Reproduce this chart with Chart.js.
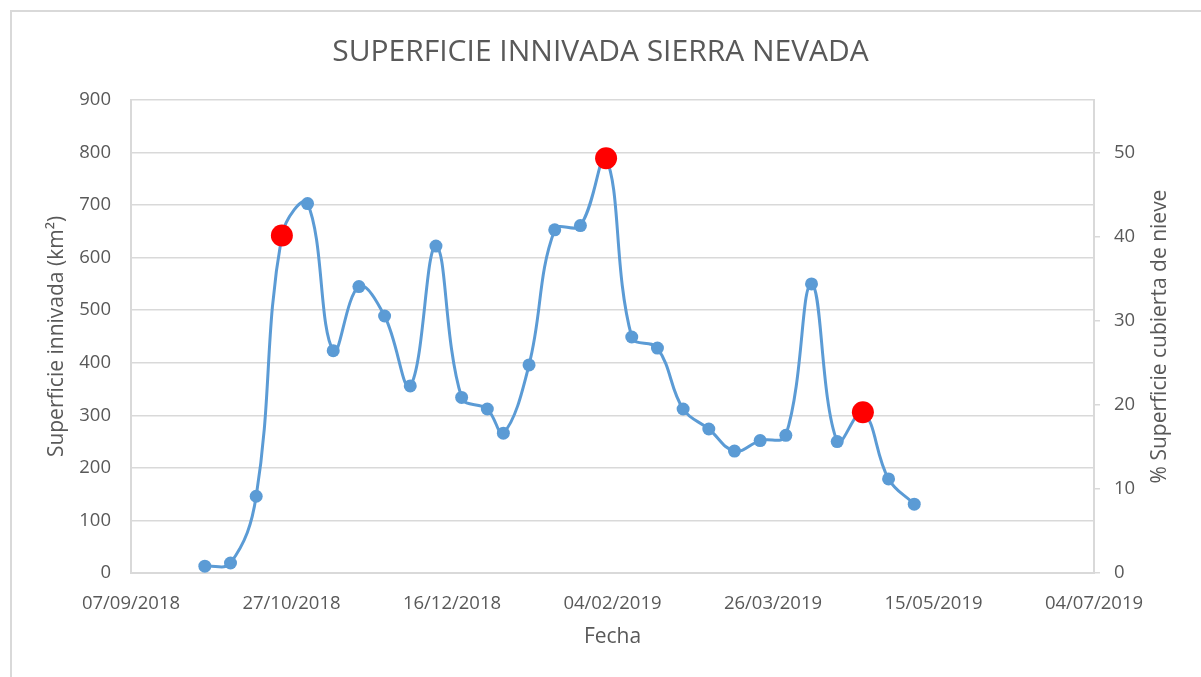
<!DOCTYPE html>
<html>
<head>
<meta charset="utf-8">
<script src="https://cdn.jsdelivr.net/npm/chart.js@4/dist/chart.umd.min.js"></script>
<style>
  html, body { margin: 0; padding: 0; background: #ffffff; }
  #wrap { position: relative; width: 1201px; height: 677px; }
  #frame { position: absolute; left: 10px; top: 10px; width: 1200px; height: 700px;
           border-left: 2px solid #d9d9d9; border-top: 2px solid #d9d9d9; pointer-events: none; }
  canvas { position: absolute; left: 0; top: 0; }
</style>
</head>
<body>
<div id="wrap">
  <canvas id="c" width="1201" height="677"></canvas>
  <div id="frame"></div>
</div>
<script>
// ---- Data ----
const chartTitle = 'SUPERFICIE INNIVADA SIERRA NEVADA';
const dates = ['2018-09-30','2018-10-08','2018-10-16','2018-10-24','2018-11-01','2018-11-09','2018-11-17','2018-11-25','2018-12-03','2018-12-11','2018-12-19','2018-12-27','2019-01-01','2019-01-09','2019-01-17','2019-01-25','2019-02-02','2019-02-10','2019-02-18','2019-02-26','2019-03-06','2019-03-14','2019-03-22','2019-03-30','2019-04-07','2019-04-15','2019-04-23','2019-05-01','2019-05-09'];
const snowArea = [13,19,146,642,703,423,545,489,356,622,334,312,266,396,653,661,789,449,428,312,274,232,252,262,550,250,306,179,131];
const highlightDates = ['2018-10-24','2019-02-02','2019-04-23'];
const axisStartDate = '2018-09-07';
const axisSpanDays = 300;
const axisStepDays = 50;
const leftTicks = [0, 900, 100];      // min, max, step (km2)
const rightTicks = [0, 50, 10];        // shown percentage ticks
const totalAreaKm2 = 1600;             // 800 km2 == 50 %
const xTitle = 'Fecha';
const yTitle = 'Superficie innivada (km²)';
const y1Title = '% Superficie cubierta de nieve';

// ---- helpers ----
const DAY = 86400000;
function toUTC(s) { const [y, m, d] = s.split('-').map(Number); return Date.UTC(y, m - 1, d); }
const base = toUTC(axisStartDate);
function dayOffset(s) { return Math.round((toUTC(s) - base) / DAY); }
function fmt(offset) {
  const d = new Date(base + offset * DAY);
  const dd = String(d.getUTCDate()).padStart(2, '0');
  const mm = String(d.getUTCMonth() + 1).padStart(2, '0');
  return dd + '/' + mm + '/' + d.getUTCFullYear();
}

const points = dates.map((s, i) => ({ x: dayOffset(s), y: snowArea[i] }));
const isHi = dates.map(s => highlightDates.includes(s));

const gray = '#595959';
const gridCol = '#d9d9d9';
const fontFamily = '"Open Sans", sans-serif';
const tickFont = { family: fontFamily, size: 18.5 };
const axisTitleFont = { family: fontFamily, size: 21 };

// right axis title, reading bottom-to-top like the reference
const rightTitlePlugin = {
  id: 'rightTitle',
  afterDraw(chart) {
    const { ctx, chartArea } = chart;
    ctx.save();
    ctx.translate(chartArea.right + 66, (chartArea.top + chartArea.bottom) / 2);
    ctx.rotate(-Math.PI / 2);
    ctx.fillStyle = gray;
    ctx.font = axisTitleFont.size + 'px ' + fontFamily;
    ctx.textAlign = 'center';
    ctx.textBaseline = 'middle';
    ctx.fillText(y1Title, 0, 0);
    ctx.restore();
  }
};

new Chart(document.getElementById('c'), {
  type: 'line',
  data: {
    datasets: [{
      label: 'Superficie innivada',
      data: points,
      borderColor: '#5B9BD5',
      borderWidth: 3,
      tension: 0.4,
      fill: false,
      pointRadius: isHi.map(h => h ? 11 : 6.5),
      pointBorderWidth: 0,
      pointBackgroundColor: isHi.map(h => h ? '#FF0000' : '#5B9BD5'),
      pointBorderColor: isHi.map(h => h ? '#FF0000' : '#5B9BD5'),
      yAxisID: 'y'
    }]
  },
  plugins: [rightTitlePlugin],
  options: {
    responsive: false,
    animation: false,
    layout: { padding: 0 },
    plugins: {
      legend: { display: false },
      tooltip: { enabled: false },
      title: {
        display: true,
        text: chartTitle,
        color: gray,
        font: { family: fontFamily, size: 30, weight: '400' },
        padding: { top: 34, bottom: 30 }
      }
    },
    scales: {
      x: {
        type: 'linear',
        min: 0,
        max: axisSpanDays,
        afterFit: s => { s.height = 104; },
        afterBuildTicks: s => {
          const t = [];
          for (let v = 0; v <= axisSpanDays; v += axisStepDays) t.push({ value: v });
          s.ticks = t;
        },
        ticks: {
          callback: v => fmt(v),
          color: gray,
          font: tickFont,
          padding: 20,
          maxRotation: 0,
          autoSkip: false
        },
        grid: { display: false, drawTicks: false },
        border: { display: true, color: gridCol, width: 2 },
        title: {
          display: true,
          text: xTitle,
          color: gray,
          font: axisTitleFont,
          padding: { top: 0, bottom: 27 }
        }
      },
      y: {
        position: 'left',
        min: leftTicks[0],
        max: leftTicks[1],
        afterFit: s => { s.width = 131; },
        ticks: {
          stepSize: leftTicks[2],
          color: gray,
          font: tickFont,
          padding: 20
        },
        grid: { color: gridCol, lineWidth: 1.5, drawTicks: false },
        border: { display: true, color: gridCol, width: 2 },
        title: {
          display: true,
          text: yTitle,
          color: gray,
          font: axisTitleFont,
          padding: { top: 44, bottom: 0 }
        }
      },
      y1: {
        position: 'right',
        min: 0,
        max: leftTicks[1] * 100 / totalAreaKm2,
        afterFit: s => { s.width = 107; },
        afterBuildTicks: s => {
          const t = [];
          for (let v = rightTicks[0]; v <= rightTicks[1]; v += rightTicks[2]) t.push({ value: v });
          s.ticks = t;
        },
        ticks: {
          color: gray,
          font: tickFont,
          padding: 14
        },
        grid: { drawOnChartArea: false, drawTicks: true, tickLength: 6, color: gridCol, lineWidth: 1.5 },
        border: { display: true, color: gridCol, width: 2 },
        title: { display: false }
      }
    }
  }
});
</script>
</body>
</html>
